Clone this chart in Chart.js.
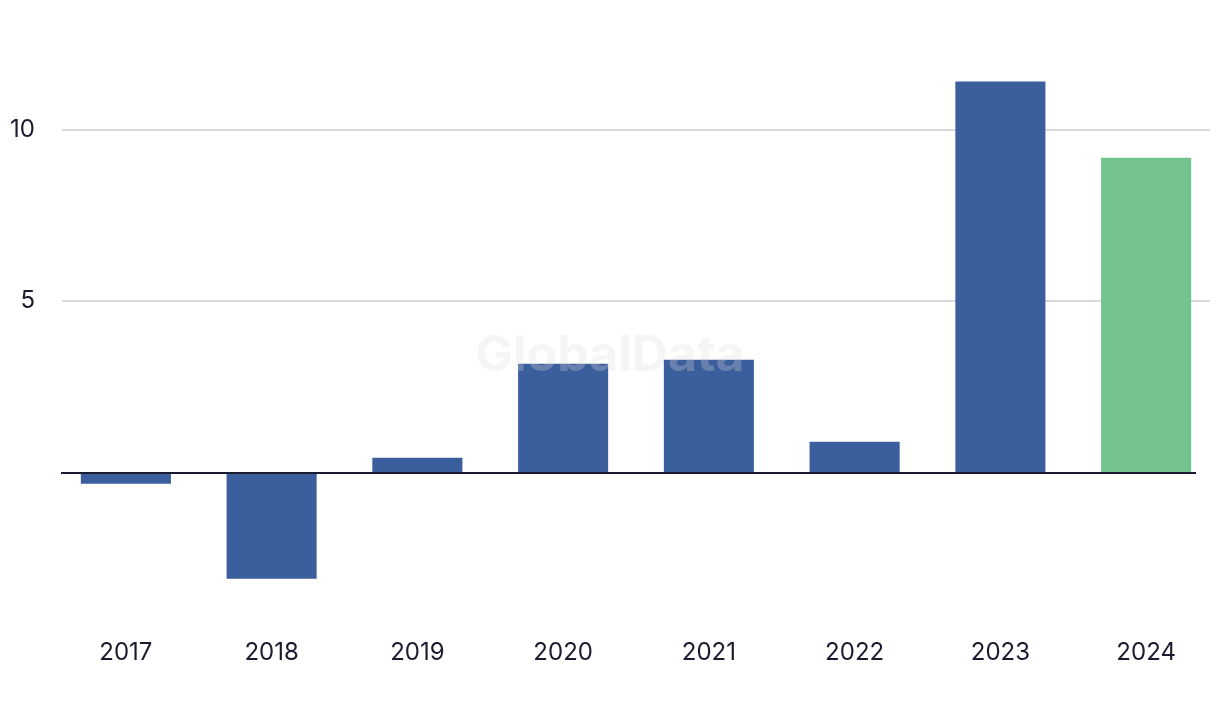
<!DOCTYPE html>
<html>
<head>
<meta charset="utf-8">
<script src="https://cdn.jsdelivr.net/npm/chart.js@4"></script>
<style>
  html, body { margin: 0; padding: 0; background: #fff; }
  #wrap { width: 1220px; height: 716px; position: relative; }
</style>
</head>
<body>
<div id="wrap"><canvas id="chart"></canvas></div>
<script>
// Croissance annuelle (%) ; 2024 en vert = dernière année
const YEARS = ["2017", "2018", "2019", "2020", "2021", "2022", "2023", "2024"];
const VALUES = [-0.32, -3.09, 0.44, 3.18, 3.29, 0.9, 11.4, 9.18];
const Y_TICKS = [5, 10];
const HIGHLIGHT = "2024";

const BLUE = "#3b5e9c";
const GREEN = "#73c290";
const INK = "#1b1b2f";

// grille maison : lignes un peu en retrait du bord, ligne du zéro en noir
const gridPlugin = {
  id: "grid",
  beforeDatasetsDraw(chart) {
    const { ctx, chartArea, scales } = chart;
    const y = scales.y;
    ctx.save();
    ctx.lineWidth = 2;
    ctx.strokeStyle = "#d9d9d9";
    Y_TICKS.forEach((v) => {
      const py = Math.round(y.getPixelForValue(v));
      ctx.beginPath();
      ctx.moveTo(chartArea.left + 9, py);
      ctx.lineTo(chartArea.right - 9, py);
      ctx.stroke();
    });
    ctx.restore();
  },
  afterDatasetsDraw(chart) {
    const { ctx, chartArea, scales } = chart;
    const py = Math.round(scales.y.getPixelForValue(0));
    ctx.save();
    ctx.lineWidth = 2;
    ctx.strokeStyle = INK;
    ctx.beginPath();
    ctx.moveTo(chartArea.left + 8, py);
    ctx.lineTo(chartArea.right - 23, py);
    ctx.stroke();
    // filigrane
    ctx.font = "bold 50px Inter";
    ctx.fillStyle = "rgba(220,220,220,0.28)";
    ctx.textAlign = "center";
    ctx.textBaseline = "middle";
    ctx.fillText("GlobalData", 610, 356);
    ctx.restore();
  },
};

new Chart(document.getElementById("chart"), {
  type: "bar",
  data: {
    labels: YEARS,
    datasets: [
      {
        data: VALUES,
        backgroundColor: YEARS.map((y) => (y === HIGHLIGHT ? GREEN : BLUE)),
        barPercentage: 0.618,
        categoryPercentage: 1,
      },
    ],
  },
  options: {
    responsive: true,
    maintainAspectRatio: false,
    animation: false,
    layout: { padding: { top: 61, bottom: 0, left: 0, right: 1 } },
    plugins: { legend: { display: false }, tooltip: { enabled: false } },
    scales: {
      y: {
        min: -4,
        max: 12,
        grid: { display: false, drawTicks: false },
        border: { display: false },
        afterBuildTicks: (s) => {
          s.ticks = Y_TICKS.map((v) => ({ value: v }));
        },
        afterFit: (s) => {
          s.width = 53;
        },
        ticks: {
          padding: 18,
          color: INK,
          font: { family: "Inter", size: 24 },
        },
      },
      x: {
        grid: { display: false, drawTicks: false },
        border: { display: false },
        afterFit: (s) => {
          s.height = 106;
        },
        ticks: {
          padding: 28,
          color: INK,
          font: { family: "Inter", size: 24 },
          maxRotation: 0,
        },
      },
    },
  },
  plugins: [gridPlugin],
});
</script>
</body>
</html>
